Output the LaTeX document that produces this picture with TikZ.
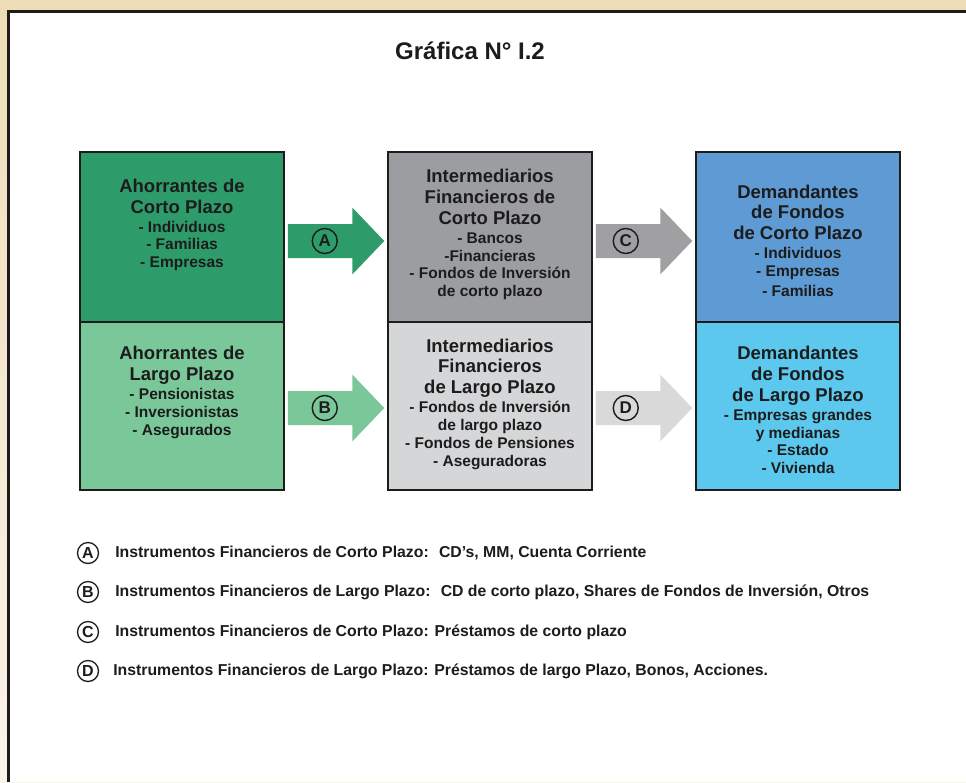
\documentclass[tikz,border=0pt]{standalone}
\usepackage{fontspec}
\setmainfont{Liberation Sans}
\usetikzlibrary{calc, positioning}
\definecolor{framebg}{HTML}{EEDCB6}
\definecolor{framebglow}{HTML}{FBF4EA}
\definecolor{inkdark}{HTML}{1C1C1C}
\definecolor{savershort}{HTML}{2E9C6A}
\definecolor{saverlong}{HTML}{7AC89A}
\definecolor{intershort}{HTML}{9C9DA1}
\definecolor{interlong}{HTML}{D5D6D8}
\definecolor{flowshort}{HTML}{A0A0A2}
\definecolor{flowlong}{HTML}{D9D9DA}
\definecolor{usershort}{HTML}{5E9AD4}
\definecolor{userlong}{HTML}{5CC8EE}
\newcommand{\hd}[1]{{\fontsize{18.5}{21}\selectfont #1}}
\newcommand{\sectorbox}[5]{%
  \node[draw=inkdark, line width=1.5pt, fill=#5, minimum width=204pt,
        minimum height=#4pt, inner sep=0pt] (#1) at (#2,#3) {};}
\newcommand{\sectortext}[4]{%
  \node[align=center, text=inkdark, inner sep=0pt,
        font=\bfseries\fontsize{15.5}{17.8}\selectfont] (#1) at ($(#2.center)+(0,#3)$) {#4};}
\newcommand{\flowarrow}[4]{%
  \fill[#4] ($(#1.east)+(3,#3-17)$) -- ($(#2.west)+(-35,#3-17)$)
    -- ($(#2.west)+(-35,#3-33.5)$) -- ($(#2.west)+(-3,#3)$)
    -- ($(#2.west)+(-35,#3+33.5)$) -- ($(#2.west)+(-35,#3+17)$)
    -- ($(#1.east)+(3,#3+17)$) -- cycle;}

\begin{document}
\begin{tikzpicture}[x=1pt, y=-1pt,
    tag/.style={circle, draw=inkdark, line width=1.4pt, minimum size=25pt,
                inner sep=0pt, text=inkdark, font=\bfseries\fontsize{17}{17}\selectfont},
    legtag/.style={circle, draw=inkdark, line width=1.3pt, minimum size=21pt,
                inner sep=0pt, text=inkdark, font=\bfseries\fontsize{16}{16}\selectfont},
    legtext/.style={inner sep=0pt, text=inkdark, font=\bfseries\fontsize{15.8}{18}\selectfont}]
  \useasboundingbox (0,0) rectangle (966,782);
  \shade[top color=framebg, bottom color=framebglow] (0,0) rectangle (966,782);
  \fill[white] (8.5,11) rectangle (966,782);
  \draw[line width=3pt, inkdark] (8.5,782) -- (8.5,11) -- (966,11);

  \node[text=inkdark, font=\bfseries\fontsize{24}{28}\selectfont] (title) at (470,51) {Gráfica N° I.2};

  \sectorbox{lt}{182}{237}{170}{savershort}
  \sectorbox{lb}{182}{406}{168}{saverlong}
  \sectorbox{mt}{490}{237}{170}{intershort}
  \sectorbox{mb}{490}{406}{168}{interlong}
  \sectorbox{rt}{798}{237}{170}{usershort}
  \sectorbox{rb}{798}{406}{168}{userlong}

  \sectortext{lt-txt}{lt}{-12}{\hd{Ahorrantes de}\\[3pt]\hd{Corto Plazo}\\[1.2pt]- Individuos\\- Familias\\- Empresas}
  \sectortext{lb-txt}{lb}{-13.5}{\hd{Ahorrantes de}\\[3pt]\hd{Largo Plazo}\\[1.2pt]- Pensionistas\\- Inversionistas\\- Asegurados}
  \sectortext{mt-txt}{mt}{-2.5}{\hd{Intermediarios}\\[3pt]\hd{Financieros de}\\[3pt]\hd{Corto Plazo}\\[1.2pt]- Bancos\\-Financieras\\- Fondos de Inversión\\de corto plazo}
  \sectortext{mb-txt}{mb}{-2}{\hd{Intermediarios}\\[3pt]\hd{Financieros}\\[3pt]\hd{de Largo Plazo}\\[1.2pt]- Fondos de Inversión\\de largo plazo\\- Fondos de Pensiones\\- Aseguradoras}
  \sectortext{rt-txt}{rt}{3.5}{\hd{Demandantes}\\[3pt]\hd{de Fondos}\\[3pt]\hd{de Corto Plazo}\\[1.2pt]- Individuos\\- Empresas\\[2pt]- Familias}
  \sectortext{rb-txt}{rb}{4}{\hd{Demandantes}\\[3pt]\hd{de Fondos}\\[3pt]\hd{de Largo Plazo}\\[1.2pt]- Empresas grandes\\y medianas\\- Estado\\- Vivienda}

  \flowarrow{lt}{mt}{4}{savershort}
  \flowarrow{lb}{mb}{2}{saverlong}
  \flowarrow{mt}{rt}{4}{flowshort}
  \flowarrow{mb}{rb}{2}{flowlong}

  \node[tag] (ta) at ($(lt.east)+(40,4)$) {A};
  \node[tag] (tb) at ($(lb.east)+(40,2)$) {B};
  \node[tag] (tc) at ($(mt.east)+(33,4)$) {C};
  \node[tag] (td) at ($(mb.east)+(33,2)$) {D};

  \node[legtag] (ka) at (88,553) {A};
  \node[legtag] (kb) at (88,592) {B};
  \node[legtag] (kc) at (88,632) {C};
  \node[legtag] (kd) at (88,671) {D};
  \node[legtext, right=16pt of ka] (ka-txt) {Instrumentos Financieros de Corto Plazo:~ CD's, MM, Cuenta Corriente};
  \node[legtext, right=16pt of kb] (kb-txt) {Instrumentos Financieros de Largo Plazo:~ CD de corto plazo, Shares de Fondos de Inversión, Otros};
  \node[legtext, right=16pt of kc] (kc-txt) {Instrumentos Financieros de Corto Plazo: Préstamos de corto plazo};
  \node[legtext, right=14pt of kd] (kd-txt) {Instrumentos Financieros de Largo Plazo: Préstamos de largo Plazo, Bonos, Acciones.};
\end{tikzpicture}
\end{document}
